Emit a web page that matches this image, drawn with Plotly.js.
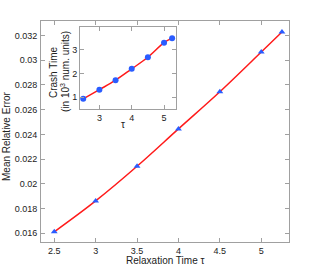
<!DOCTYPE html>
<html><head><meta charset="utf-8">
<script src="https://cdn.plot.ly/plotly-3.0.1.min.js"></script>
<style>html,body{margin:0;padding:0;background:#fff}</style>
</head><body><div id="chart" style="width:320px;height:273px"></div>
<script>
var tau = [2.5, 3, 3.5, 4, 4.5, 5, 5.25];
var meanRelError = [0.01612, 0.01862, 0.02142, 0.02444, 0.02744, 0.03065, 0.03227];
var crashTime = [0.93, 1.32, 1.72, 2.2, 2.69, 3.31, 3.5];
var mainXTicks = [2.5, 3, 3.5, 4, 4.5, 5];
var mainYTicks = [0.016, 0.018, 0.02, 0.022, 0.024, 0.026, 0.028, 0.03, 0.032];
var mainYTickText = ['0.016','0.018','0.02','0.022','0.024','0.026','0.028','0.03','0.032'];
var insetXTicks = [3, 4, 5];
var insetYTicks = [1, 2, 3];

var font = {family: 'Liberation Sans, Arial, sans-serif', size: 10, color: '#222'};
var tickFont = {family: 'Liberation Sans, Arial, sans-serif', size: 9, color: '#222'};
var axCommon = {showgrid: false, zeroline: false, showline: true, linecolor: '#a0a0a0', linewidth: 1,
  mirror: 'ticks', ticks: 'inside', ticklen: 4, tickcolor: '#a0a0a0', tickfont: tickFont};

var traces = [
  {x: tau, y: meanRelError, mode: 'lines', line: {color: '#ff1a1a', width: 1.5, shape: 'spline'}, xaxis: 'x', yaxis: 'y'},
  {x: tau, y: meanRelError, mode: 'markers', marker: {symbol: 'triangle-up', color: '#2a5cff', size: 6}, xaxis: 'x', yaxis: 'y'},
  {x: tau, y: crashTime, mode: 'lines', line: {color: '#ff1a1a', width: 1.5, shape: 'spline'}, xaxis: 'x2', yaxis: 'y2'},
  {x: tau, y: crashTime, mode: 'markers', marker: {symbol: 'circle', color: '#2a5cff', size: 6}, xaxis: 'x2', yaxis: 'y2'}
];

// pixel -> paper helpers (plot area: x 41..289, y 21..242)
function px(x) { return (x - 41) / 248; }
function py(y) { return (242 - y) / 221; }

var layout = {
  width: 320, height: 273, showlegend: false,
  paper_bgcolor: '#fff', plot_bgcolor: '#fff',
  margin: {l: 41, r: 31, t: 21, b: 31},
  font: font,
  xaxis: Object.assign({}, axCommon, {range: [2.34, 5.335], tickvals: mainXTicks, domain: [0, 1], anchor: 'y'}),
  yaxis: Object.assign({}, axCommon, {range: [0.0153, 0.03316], tickvals: mainYTicks, ticktext: mainYTickText, domain: [0, 1], anchor: 'x', ticklabelstandoff: 1}),
  xaxis2: Object.assign({}, axCommon, {range: [2.40, 5.37], tickvals: insetXTicks, domain: [px(80), px(176)], anchor: 'y2'}),
  yaxis2: Object.assign({}, axCommon, {range: [0.5, 3.96], tickvals: insetYTicks, domain: [py(109), py(27.3)], anchor: 'x2'}),
  annotations: [
    {text: 'Relaxation Time τ', x: px(165), y: py(260), xref: 'paper', yref: 'paper', xanchor: 'center', yanchor: 'middle', showarrow: false, font: font},
    {text: 'Mean Relative Error', textangle: -90, x: px(6), y: py(136), xref: 'paper', yref: 'paper', xanchor: 'center', yanchor: 'middle', showarrow: false, font: font},
    {text: 'τ', x: px(123), y: py(124), xref: 'paper', yref: 'paper', xanchor: 'center', yanchor: 'middle', showarrow: false, font: font},
    {text: 'Crash Time', textangle: -90, x: px(53), y: py(72), xref: 'paper', yref: 'paper', xanchor: 'center', yanchor: 'middle', showarrow: false, font: font},
    {text: '(in 10<sup>3</sup> num. units)', textangle: -90, x: px(65), y: py(72), xref: 'paper', yref: 'paper', xanchor: 'center', yanchor: 'middle', showarrow: false, font: font}
  ]
};
Plotly.newPlot('chart', traces, layout, {staticPlot: true, displayModeBar: false});
</script></body></html>
